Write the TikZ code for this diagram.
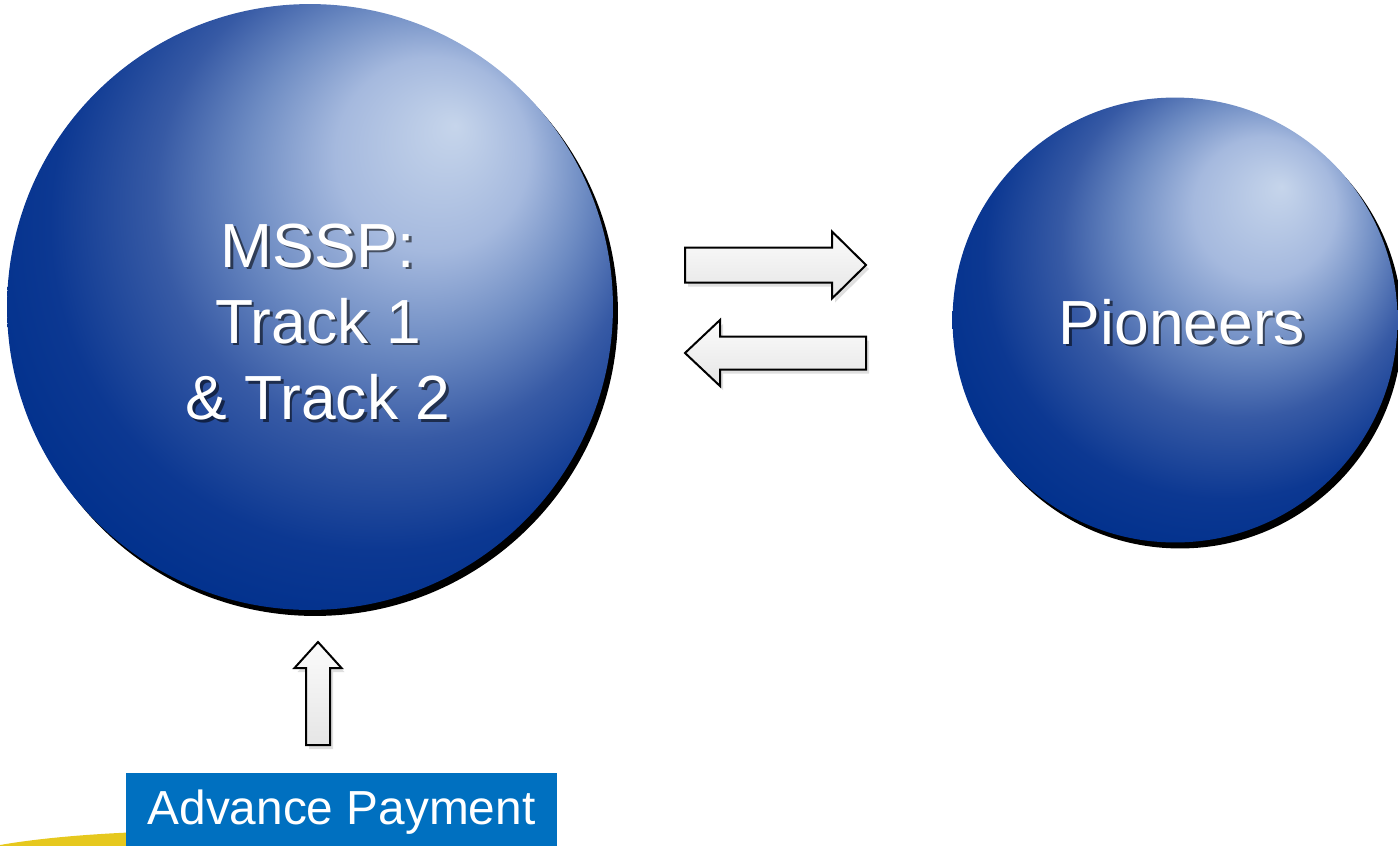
\documentclass[tikz,border=0pt]{standalone}
\usepackage{fontspec}
\setmainfont{Liberation Sans}
\usetikzlibrary{shadows}

\definecolor{orbhi}{RGB}{198,213,235}
\definecolor{orbpale}{RGB}{165,185,222}
\definecolor{orblight}{RGB}{110,140,195}
\definecolor{orbmid}{RGB}{55,90,165}
\definecolor{orbdeep}{RGB}{12,56,146}
\definecolor{orbdark}{RGB}{0,48,140}
\definecolor{paybox}{RGB}{0,112,192}
\definecolor{swoosh}{RGB}{230,200,30}

\pgfdeclareradialshading{orb}{\pgfpoint{12bp}{15bp}}{color(0bp)=(orbhi); color(8bp)=(orbpale); color(14bp)=(orblight); color(20bp)=(orbmid); color(27bp)=(orbdeep); color(33bp)=(orbdark); color(50bp)=(orbdark)}

\begin{document}
\begin{tikzpicture}[x=0.02cm, y=-0.02cm,
    orb/.style = {circle, shading=orb, inner sep=0pt,
      preaction={fill=black, transform canvas={xshift=0.1cm, yshift=-0.12cm}}},
    orb text/.style = {align=center, text=white, inner sep=0pt,
      font=\fontsize{35.5}{43.4}\selectfont},
    orb shadow/.style = {orb text, text=black, text opacity=0.55,
      xshift=0.05cm, yshift=-0.05cm},
    flow/.style = {draw=black, line width=0.04cm, line join=miter,
      top color=gray!3, bottom color=gray!20,
      drop shadow={opacity=0.25, shadow xshift=0.06cm, shadow yshift=-0.08cm}},
    payment/.style = {fill=paybox, text=white, inner sep=0pt,
      minimum width=8.62cm, minimum height=1.56cm,
      font=\fontsize{27.2}{32}\selectfont}]
  \useasboundingbox (0,0) rectangle (1398,845);

  % the two spheres
  \node[orb, minimum size=12.12cm] (mssp) at (310,307) {};
  \node[orb, minimum size=8.9cm] (pioneers) at (1175,320) {};

  \node[orb shadow] at (318,322) {MSSP:\\Track 1\\\& Track 2};
  \node[orb text] (mssp text) at (318,322) {MSSP:\\Track 1\\\& Track 2};
  \node[orb shadow] at (1182,322) {Pioneers};
  \node[orb text] (pioneers text) at (1182,322) {Pioneers};

  % exchange between them
  \coordinate (to pioneers) at (685,265);
  \coordinate (to mssp) at (866,353);
  \draw[flow] (to pioneers) ++(0,-17.5) -- ++(147,0) -- ++(0,-16)
    -- ++(34,33.5) -- ++(-34,33.5) -- ++(0,-16) -- ++(-147,0) -- cycle;
  \draw[flow] (to mssp) ++(0,-16.5) -- ++(-146,0) -- ++(0,-16.5)
    -- ++(-35,33) -- ++(35,33) -- ++(0,-16.5) -- ++(146,0) -- cycle;

  % payment feeding the left sphere
  \fill[swoosh] (0,845) .. controls (40,838) and (90,834) .. (140,832)
    -- (140,850) -- (0,850) -- cycle;
  \node[payment] (pay) at (341.5,812) {Advance Payment};
  \coordinate (pay arrow) at (318,745);
  \draw[flow] (pay arrow) ++(-12,0) -- ++(0,-77) -- ++(-11.5,0)
    -- ++(23.5,-26) -- ++(23.5,26) -- ++(-11.5,0) -- ++(0,77) -- cycle;
\end{tikzpicture}
\end{document}
